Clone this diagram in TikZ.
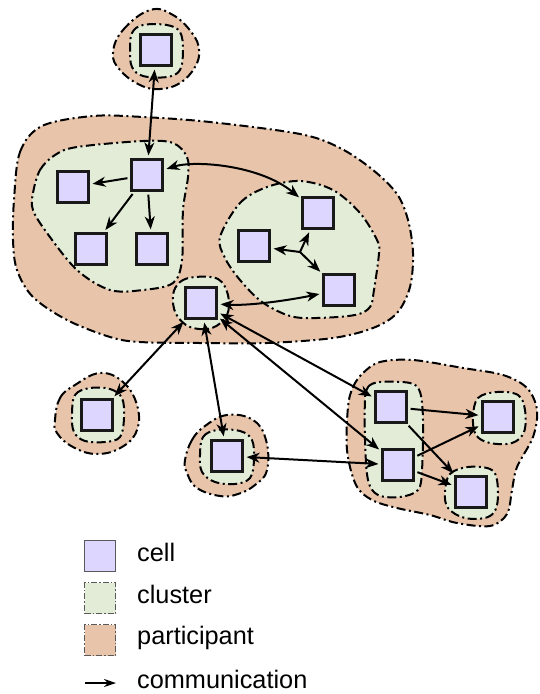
\documentclass[tikz,border=0pt]{standalone}
\usepackage{fontspec}
\setmainfont{Liberation Sans}
\usetikzlibrary{arrows.meta}
\definecolor{partc}{RGB}{232,197,170}
\definecolor{clusc}{RGB}{226,236,214}
\definecolor{cellc}{RGB}{221,214,255}
\tikzset{
  dd/.style={dash pattern=on 9pt off 3.5pt on 2pt off 3.5pt},
  partblob/.style={draw=black, line width=2pt, dd, fill=partc},
  clusblob/.style={draw=black, line width=2pt, dd, fill=clusc},
  cellbox/.style={draw=black!90, line width=2.2pt, fill=cellc, minimum size=31pt, inner sep=0pt},
  comm/.style={line width=2pt, shorten >=3pt, shorten <=3pt, >={Stealth[length=13pt,width=10pt,inset=4pt]}},
  legcell/.style={draw=black!65, line width=1.2pt, fill=cellc, minimum size=31pt, inner sep=0pt},
  legclus/.style={draw=black!65, line width=1.2pt, dash pattern=on 6pt off 2pt on 1.5pt off 2pt, fill=clusc, minimum size=31pt, inner sep=0pt},
  legpart/.style={draw=black!65, line width=1.2pt, dash pattern=on 6pt off 2pt on 1.5pt off 2pt, fill=partc, minimum size=31pt, inner sep=0pt},
  lbl/.style={anchor=base west, inner sep=0pt, font=\fontsize{25.3}{30}\selectfont}
}
\begin{document}
\begin{tikzpicture}[x=1pt,y=-1pt]
\useasboundingbox (0,0) rectangle (539,694);
% participants
\draw[partblob] plot[smooth cycle, tension=0.7] coordinates {(113,53) (123,30) (150,10) (173,15) (192,33) (199,50) (195,67) (180,83) (160,89) (140,85) (120,70)};
\draw[partblob] plot[smooth cycle, tension=0.55] coordinates {(14,200) (20,152) (42,126) (93,116) (143,117) (210,122) (300,134) (340,148) (373,170) (397,194) (408,220) (413,253) (410,287) (397,313) (373,328) (333,338) (267,343) (200,343) (140,342) (110,337) (67,320) (33,297) (17,270) (13,240)};
\draw[partblob] plot[smooth cycle, tension=0.7] coordinates {(55,420) (60,398) (75,385) (100,373) (123,382) (137,405) (137,430) (122,447) (97,454) (73,447) (57,433)};
\draw[partblob] plot[smooth cycle, tension=0.7] coordinates {(185,460) (192,440) (205,426) (227,415) (253,420) (266,440) (267,470) (255,485) (238,494) (220,496) (197,488) (187,473)};
\draw[partblob] plot[smooth cycle, tension=0.55] coordinates {(348,407) (353,387) (363,373) (380,362) (413,360) (463,368) (503,375) (527,388) (537,410) (533,437) (517,467) (512,490) (507,514) (490,526) (457,523) (430,515) (397,508) (372,500) (356,485) (347,450)};
% clusters
\draw[clusblob] plot[smooth cycle, tension=0.6] coordinates {(130,50) (132,33) (143,25) (167,25) (180,32) (183,50) (180,70) (167,77) (143,76) (132,67)};
\draw[clusblob] plot[smooth cycle, tension=0.55] coordinates {(33,193) (40,170) (55,155) (77,147) (143,141) (173,143) (187,157) (188,177) (183,210) (182,260) (173,283) (143,290) (110,290) (77,270) (47,233) (33,210)};
\draw[clusblob] plot[smooth cycle, tension=0.55] coordinates {(220,237) (240,203) (267,187) (300,181) (333,190) (360,213) (377,240) (379,253) (374,290) (370,307) (355,315) (317,318) (290,316) (262,302) (240,280) (225,258)};
\draw[clusblob] plot[smooth cycle, tension=0.6] coordinates {(173,295) (180,282) (195,277) (218,279) (228,295) (227,315) (212,328) (190,327) (176,314)};
\draw[clusblob] plot[smooth cycle, tension=0.6] coordinates {(72,415) (75,395) (90,388) (110,389) (122,398) (124,418) (120,437) (105,442) (85,441) (74,432)};
\draw[clusblob] plot[smooth cycle, tension=0.6] coordinates {(200,455) (203,437) (217,430) (240,431) (252,440) (254,460) (250,478) (235,484) (215,482) (202,472)};
\draw[clusblob] plot[smooth cycle, tension=0.55] coordinates {(365,400) (368,387) (380,382) (410,383) (420,392) (423,420) (422,470) (418,490) (400,497) (378,495) (368,480) (365,440)};
\draw[clusblob] plot[smooth cycle, tension=0.6] coordinates {(473,417) (478,398) (497,392) (518,395) (525,410) (524,432) (512,443) (490,443) (476,435)};
\draw[clusblob] plot[smooth cycle, tension=0.6] coordinates {(445,492) (450,474) (468,467) (490,469) (497,480) (497,505) (488,517) (465,518) (448,508)};
% cells
\node[cellbox] (ct) at (156,50) {};
\node[cellbox] (cA) at (147,175) {};
\node[cellbox] (cL) at (73,187) {};
\node[cellbox] (cB1) at (91,249) {};
\node[cellbox] (cB2) at (152,249) {};
\node[cellbox] (r1) at (318,213) {};
\node[cellbox] (r2) at (254,246) {};
\node[cellbox] (r3) at (339,290) {};
\node[cellbox] (cs) at (201,303) {};
\node[cellbox] (bl) at (97,415) {};
\node[cellbox] (bm) at (227,456) {};
\node[cellbox] (g1) at (391,407) {};
\node[cellbox] (g2) at (398,465) {};
\node[cellbox] (g3) at (498,417) {};
\node[cellbox] (g4) at (471,492) {};
\coordinate (j) at (300,252);
% communications
\draw[comm,<->] (ct) -- (cA);
\draw[comm,->] (cA) -- (cL);
\draw[comm,->] (cA) -- (cB1);
\draw[comm,->] (cA) -- (cB2);
\draw[comm,<->] (cA) .. controls (195,160) and (260,165) .. (r1);
\draw[comm,->,shorten <=0pt] (j) -- (r2);
\draw[comm,->,shorten <=0pt] (j) -- (r1);
\draw[comm,->,shorten <=0pt] (j) -- (r3);
\draw[comm,<->] (cs) .. controls (250,306) and (290,300) .. (r3);
\draw[comm,<->] (cs) -- (bl);
\draw[comm,<->] (cs) -- (bm);
\draw[comm,<->] (cs) -- (g1);
\draw[comm,<->] (cs) -- (g2);
\draw[comm,<->] (bm) -- (g2);
\draw[comm,->] (g1) -- (g3);
\draw[comm,->] (g1) -- (g4);
\draw[comm,->] (g2) -- (g3);
\draw[comm,->] (g2) -- (g4);
% legend
\node[legcell] (kcell) at (100,556) {};
\node[legclus] (kclus) at (100,598) {};
\node[legpart] (kpart) at (100,640) {};
\coordinate (ka) at (85,683);
\coordinate (kb) at (116,683);
\draw[comm,->,shorten >=0pt,shorten <=0pt,line width=1.8pt,>={Stealth[length=12pt,width=8pt,inset=4pt]}] (ka) -- (kb);
\node[lbl] (tcell) at (137,561) {cell};
\node[lbl] (tclus) at (137,603) {cluster};
\node[lbl] (tpart) at (137,644) {participant};
\node[lbl] (tcomm) at (137,688) {communication};
\end{tikzpicture}
\end{document}
